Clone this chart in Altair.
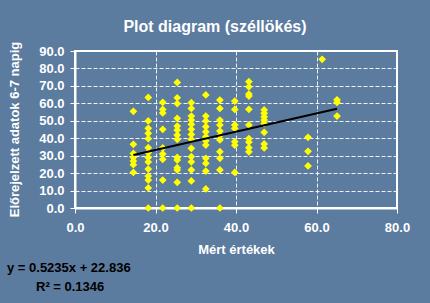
import altair as alt
import pandas as pd

# Measured values (x) of each vertical column of points
measured_cols = [14.5, 18.2, 21.8, 25.4, 28.9, 32.5, 36.0, 39.7, 43.2, 47.0, 57.9, 61.4, 65.1]

# Forecast values (y) for each column
col_01 = [55.4, 36.5, 31.3, 29.0, 26.9, 24.8, 20.4]
col_02 = [63.4, 49.9, 45.7, 42.8, 39.7, 34.6, 31.7, 29.0, 26.4, 22.3, 18.3, 16.0, 11.5, 0.0]
col_03 = [60.6, 56.5, 54.5, 45.1, 34.4, 31.0, 27.9, 16.0, 0.0]
col_04 = [72.0, 63.2, 59.9, 51.4, 47.0, 44.7, 41.8, 39.4, 29.0, 27.5, 23.1, 21.8, 14.7, 0.0]
col_05 = [60.4, 57.1, 52.7, 50.4, 48.0, 45.1, 42.2, 39.4, 34.2, 29.4, 26.5, 21.8, 15.5, 0.0]
col_06 = [64.8, 52.7, 49.9, 46.6, 43.7, 40.9, 38.5, 36.1, 28.5, 25.6, 21.2, 10.9]
col_07 = [61.9, 57.1, 50.4, 47.6, 44.1, 41.5, 39.0, 32.3, 28.5, 21.8, 0.0]
col_08 = [61.3, 56.5, 47.6, 45.6, 38.0, 36.0, 20.4]
col_09 = [72.4, 69.5, 65.3, 64.2, 56.6, 47.6, 39.8, 37.8, 34.6, 32.2]
col_10 = [56.2, 54.3, 52.3, 50.4, 48.5, 43.4, 36.7, 34.4]
col_11 = [40.5, 32.5, 24.1]
col_12 = [85.2]
col_13 = [62.0, 60.5, 52.7]
forecast_cols = [col_01, col_02, col_03, col_04, col_05, col_06, col_07,
                 col_08, col_09, col_10, col_11, col_12, col_13]

# Linear trend shown on the chart
slope = 0.5235
intercept = 22.836
r_squared = 0.1346

x_ticks = [0, 20, 40, 60, 80]
y_ticks = [0, 10, 20, 30, 40, 50, 60, 70, 80, 90]

title_text = "Plot diagram (széllökés)"
x_title = "Mért értékek"
y_title = "Előrejelzett adatok 6-7 napig"

rows = []
for xv, ys in zip(measured_cols, forecast_cols):
    for yv in ys:
        rows.append({"x": xv, "y": yv})
points_df = pd.DataFrame(rows)

x_min, x_max = min(measured_cols), max(measured_cols)
trend_df = pd.DataFrame({"x": [x_min, x_max],
                         "y": [slope * x_min + intercept, slope * x_max + intercept]})

text_df = pd.DataFrame({"eq": [f"y = {slope}x + {intercept}"],
                        "r2": [f"R² = {r_squared}"],
                        "ytitle": [y_title]})

FONT = "Liberation Sans"
BG = "#5b7b9f"
W, H = 322, 157

x_enc = alt.X("x:Q", scale=alt.Scale(domain=[0, 80], nice=False),
              axis=alt.Axis(values=x_ticks, format=".1f", title=x_title,
                            tickSize=5, labelPadding=8, titlePadding=9,
                            labelOverlap=False, labelFlush=False))
y_enc = alt.Y("y:Q", scale=alt.Scale(domain=[0, 90], nice=False),
              axis=alt.Axis(values=y_ticks, format=".1f", title="",
                            tickSize=5, labelPadding=6,
                            labelOverlap=False, labelFlush=False))

points = alt.Chart(points_df).mark_point(
    shape="diamond", filled=True, size=60, color="#ffff00", opacity=1
).encode(x=x_enc, y=y_enc)

trend = alt.Chart(trend_df).mark_line(color="black", strokeWidth=2).encode(
    x=x_enc, y=y_enc)

ytitle_text = alt.Chart(text_df).mark_text(
    align="center", baseline="middle", angle=270, font=FONT, fontSize=13,
    fontWeight="bold", color="white"
).encode(x=alt.value(-60), y=alt.value(H / 2), text="ytitle:N")

eq_text = alt.Chart(text_df).mark_text(
    align="left", baseline="alphabetic", font=FONT, fontSize=13,
    fontWeight="bold", color="black"
).encode(x=alt.value(-68), y=alt.value(221), text="eq:N")

r2_text = alt.Chart(text_df).mark_text(
    align="left", baseline="alphabetic", font=FONT, fontSize=13,
    fontWeight="bold", color="black"
).encode(x=alt.value(-39), y=alt.value(240), text="r2:N")

chart = alt.layer(points, trend, ytitle_text, eq_text, r2_text).properties(
    width=W, height=H,
    title=alt.TitleParams(title_text, font=FONT, fontSize=16, fontWeight="bold",
                          color="white", dx=-21, dy=26, offset=20, baseline="alphabetic"),
    autosize=alt.AutoSizeParams(type="none"),
    padding={"left": 75, "top": 51, "right": 33, "bottom": 95},
    background=BG,
).configure_view(
    stroke="white", strokeWidth=2, fill=BG
).configure_axis(
    labelFont=FONT, labelFontSize=13, labelFontWeight="bold", labelColor="white",
    titleFont=FONT, titleFontSize=13, titleFontWeight="bold", titleColor="white",
    domainColor="white", domainWidth=2, tickColor="white", tickWidth=1,
    gridColor="white", gridDash=[4, 2], gridWidth=1, gridOpacity=0.9,
)

chart.save("out.html", embed_options={"renderer": "svg", "actions": False})
